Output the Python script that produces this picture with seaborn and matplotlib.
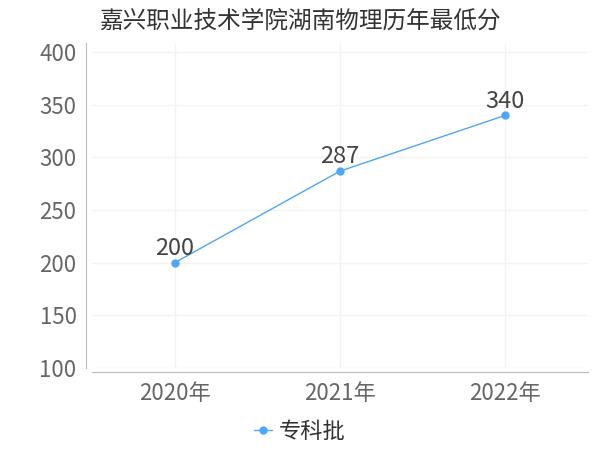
import matplotlib
matplotlib.use('Agg')
import matplotlib.pyplot as plt
import pandas as pd
import seaborn as sns

sns.set_style(style='white')
plt.rcParams['font.family'] = ['Noto Sans CJK SC', 'DejaVu Sans']

# data
years = ['2020年', '2021年', '2022年']
scores = [200, 287, 340]
series_name = '专科批'
title = '嘉兴职业技术学院湖南物理历年最低分'
y_ticks = [100, 150, 200, 250, 300, 350, 400]

line_color = '#4da6f7'
df = pd.DataFrame({'year': years, 'score': scores, 'batch': series_name})

fig = plt.figure(figsize=(6, 4.5), dpi=100)
ax = fig.add_axes([0.153, 0.182, 0.827, 0.722])

sns.lineplot(data=df, x='year', y='score', hue='batch', palette=[line_color],
             marker='o', markersize=6, markeredgewidth=0, linewidth=1,
             sort=False, ax=ax)

for i, v in enumerate(scores):
    ax.annotate(str(v), (i, v), xytext=(0, 2), textcoords='offset points',
                ha='center', va='bottom', fontsize=17, color='#444444')

ax.set_xlim(-0.5, 2.5)
ax.set_ylim(100, 408.5)
ax.set_yticks(y_ticks)
ax.grid(True, color='#f3f3f3', linewidth=1)
ax.set_xlabel('')
ax.set_ylabel('')
ax.tick_params(axis='both', labelsize=16, colors='#666666', length=4, width=1,
               color='#bbbbbb', pad=3)
for lab in ax.get_xticklabels() + ax.get_yticklabels():
    lab.set_color('#666666')

for side in ['top', 'right']:
    ax.spines[side].set_visible(False)
ax.spines['left'].set_position(('outward', 4))
ax.spines['bottom'].set_position(('outward', 3))
ax.spines['left'].set_color('#bbbbbb')
ax.spines['bottom'].set_color('#bbbbbb')

fig.text(0.5, 0.953, title, ha='center', va='center', fontsize=17, color='#333333')

handles, labels = ax.get_legend_handles_labels()
ax.legend(handles, labels, loc='center', bbox_to_anchor=(0.5, 0.042),
          bbox_transform=fig.transFigure, frameon=False, fontsize=16,
          handlelength=0.8, handletextpad=0.3, labelcolor='#333333')

fig.savefig('out.png', dpi=100)
